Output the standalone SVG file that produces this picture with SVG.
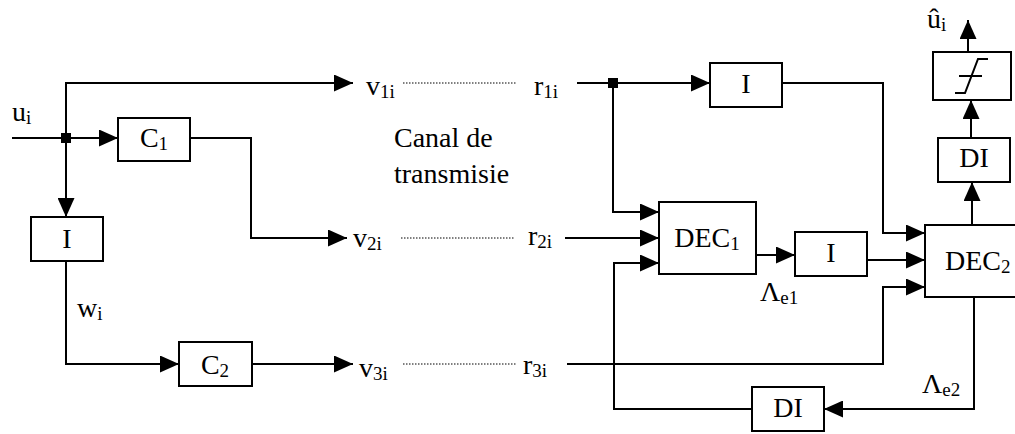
<svg xmlns="http://www.w3.org/2000/svg" width="1015" height="434" viewBox="0 0 1015 434">
<style>
.box{fill:#fff;stroke:#000;stroke-width:2}
.ln{fill:none;stroke:#000;stroke-width:2}
.dot{fill:none;stroke:#000;stroke-width:1;stroke-dasharray:1.5 1.5}
.c{text-anchor:middle}
.s{font-size:19px}
</style>
<defs>
<marker id="ah" viewBox="0 0 19 17" refX="19" refY="8.5" markerWidth="19" markerHeight="17" markerUnits="userSpaceOnUse" orient="auto">
<path d="M0,0 L19,8.5 L0,17 Z" fill="#000"/>
</marker>
</defs>
<g id="connectors">
<path class="ln" d="M12,138 H118" marker-end="url(#ah)"/>
<path class="ln" d="M66,138 V83 H353" marker-end="url(#ah)"/>
<path class="ln" d="M66,138 V217" marker-end="url(#ah)"/>
<path class="ln" d="M66,261 V364 H179" marker-end="url(#ah)"/>
<path class="ln" d="M252,364 H353" marker-end="url(#ah)"/>
<path class="ln" d="M190,138 H251 V238 H347" marker-end="url(#ah)"/>
<path class="dot" d="M403,83 H517 M401,238 H515 M403,364 H516"/>
<path class="ln" d="M577,83 H710" marker-end="url(#ah)"/>
<path class="ln" d="M613,83 V212 H659" marker-end="url(#ah)"/>
<path class="ln" d="M565,238 H659" marker-end="url(#ah)"/>
<path class="ln" d="M567,364 H883 V287 H925" marker-end="url(#ah)"/>
<path class="ln" d="M782,83 H883 V233 H925" marker-end="url(#ah)"/>
<path class="ln" d="M756,255 H795" marker-end="url(#ah)"/>
<path class="ln" d="M867,260 H925" marker-end="url(#ah)"/>
<path class="ln" d="M972,225 V182" marker-end="url(#ah)"/>
<path class="ln" d="M971,138 V100" marker-end="url(#ah)"/>
<path class="ln" d="M968,52 V20" marker-end="url(#ah)"/>
<path class="ln" d="M974,297 V409 H824" marker-end="url(#ah)"/>
<path class="ln" d="M752,409 H614 V263 H659" marker-end="url(#ah)"/>
<rect x="61" y="133" width="10" height="10" fill="#000"/>
<rect x="608" y="78" width="10" height="10" fill="#000"/>
</g>
<g font-family="'Liberation Serif', 'Times New Roman', serif" font-size="28" fill="#000">
<g id="labels">
<text x="12" y="121">u<tspan class="s" dy="3">i</tspan></text>
<text x="366" y="95">v<tspan class="s" dy="3">1i</tspan></text>
<text x="534" y="95">r<tspan class="s" dy="3">1i</tspan></text>
<text x="394" y="147">Canal de</text>
<text x="394" y="183">transmisie</text>
<text x="353" y="247">v<tspan class="s" dy="3">2i</tspan></text>
<text x="528" y="245">r<tspan class="s" dy="3">2i</tspan></text>
<text x="359" y="377">v<tspan class="s" dy="3">3i</tspan></text>
<text x="523" y="374">r<tspan class="s" dy="3">3i</tspan></text>
<text x="77" y="317">w<tspan class="s" dy="3">i</tspan></text>
<text x="927" y="28">û<tspan class="s" dy="3">i</tspan></text>
<text x="760" y="301">Λ<tspan class="s" dy="3">e1</tspan></text>
<text x="922" y="393">Λ<tspan class="s" dy="3">e2</tspan></text>
</g>
<g id="C1"><rect class="box" x="118" y="118" width="72" height="43"/><text class="c" x="154" y="147">C<tspan class="s" dy="3">1</tspan></text></g>
<g id="I_in"><rect class="box" x="31" y="217" width="72" height="44"/><text class="c" x="67" y="248">I</text></g>
<g id="C2"><rect class="box" x="179" y="342" width="73" height="44"/><text class="c" x="215" y="374">C<tspan class="s" dy="3">2</tspan></text></g>
<g id="I1"><rect class="box" x="710" y="63" width="72" height="44"/><text class="c" x="746" y="93">I</text></g>
<g id="DEC1"><rect class="box" x="659" y="202" width="97" height="72"/><text class="c" x="707" y="247">DEC<tspan class="s" dy="3">1</tspan></text></g>
<g id="I2"><rect class="box" x="795" y="232" width="72" height="44"/><text class="c" x="831" y="262">I</text></g>
<g id="DEC2"><rect class="box" x="925" y="225" width="105" height="72"/><text x="945" y="270">DEC<tspan class="s" dy="3">2</tspan></text></g>
<g id="DI_top"><rect class="box" x="938" y="138" width="72" height="44"/><text class="c" x="974" y="167">DI</text></g>
<g id="limiter"><rect class="box" x="933" y="52" width="78" height="48"/><path class="ln" d="M955,93 H965 L978,59 H988 M959,76 H982" stroke-width="1.5"/></g>
<g id="DI_bottom"><rect class="box" x="752" y="387" width="72" height="44"/><text class="c" x="788" y="417">DI</text></g>
</g>
</svg>
